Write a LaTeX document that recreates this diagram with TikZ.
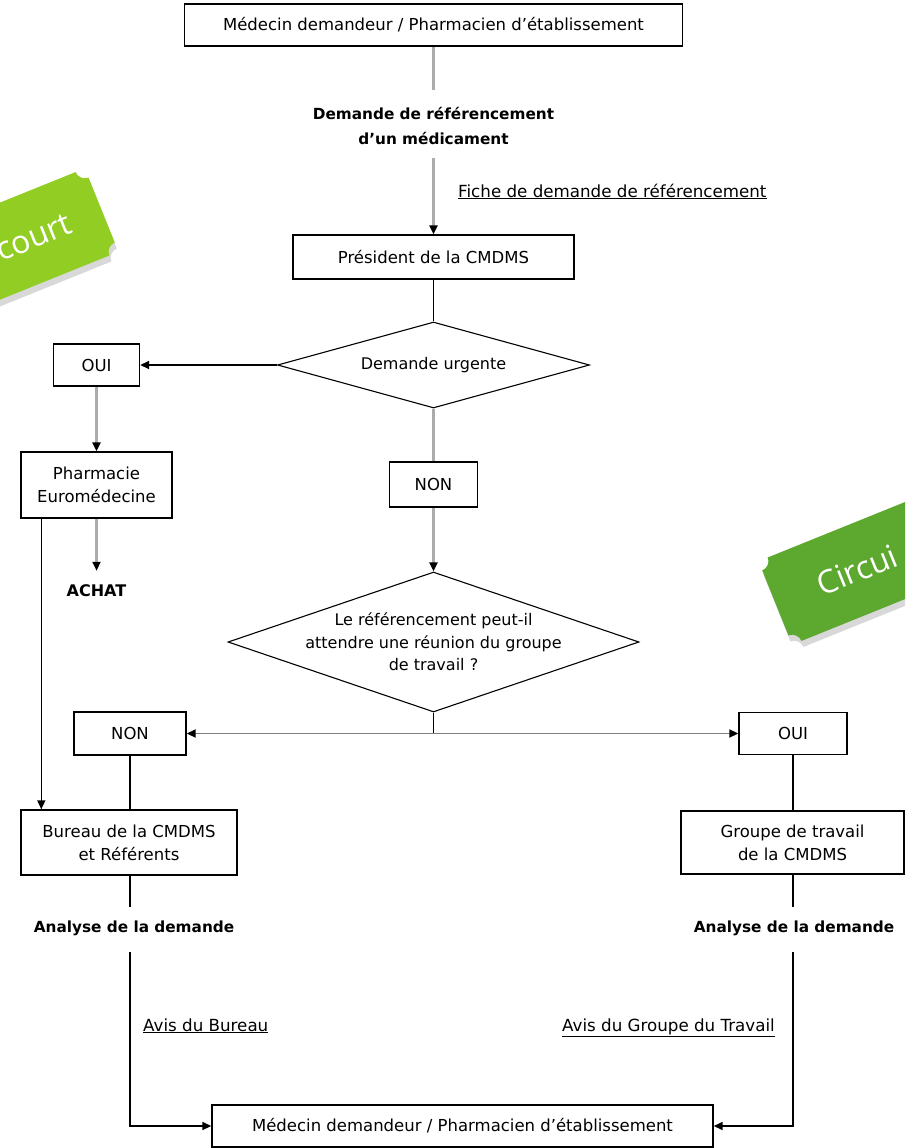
\documentclass[tikz,border=0pt]{standalone}
\usepackage{fontspec}
\setmainfont{DejaVu Sans}
\newfontfamily\tagfont{Open Sans}
\usetikzlibrary{arrows.meta,shapes.geometric,calc,shadows}
\definecolor{tagL}{HTML}{92CD24}
\definecolor{tagR}{HTML}{5DA82E}
\definecolor{gline}{HTML}{ABABAB}
\begin{document}
\begin{tikzpicture}[x=1pt,y=-1pt,
  box/.style={draw=black,line width=1.4pt,fill=white,inner sep=0pt,align=center,font=\fontsize{16.5}{23}\selectfont},
  dia/.style={draw=black,line width=1.1pt,shape=diamond,inner sep=0pt},
  dtext/.style={align=center,inner sep=0pt,font=\fontsize{16}{22.5}\selectfont},
  lbl/.style={align=center,inner sep=0pt,font=\fontsize{15.3}{25}\selectfont\bfseries},
  ul/.style={anchor=base west,inner sep=0pt,font=\fontsize{16.7}{20}\selectfont},
  gl/.style={draw=gline,line width=2.6pt},
  bl/.style={draw=black,line width=1.6pt},
  tip/.style={-{Triangle[color=black,length=9pt,width=8pt]}},
  tagtext/.style={text=white,inner sep=0pt,font=\tagfont\fontsize{32}{32}\selectfont}
]
\useasboundingbox (0,0) rectangle (905,1148);
\fill[white] (0,0) rectangle (905,1148);

% boxes
\node[box,minimum width=498pt,minimum height=42pt] (top) at (433.5,25) {Médecin demandeur / Pharmacien d'établissement};
\node[lbl] (req) at (433.5,126) {Demande de référencement\\d'un médicament};
\node[ul] (fiche) at (458,197) {\underline{Fiche de demande de référencement}};
\node[box,minimum width=281pt,minimum height=44pt] (pres) at (433.5,257) {Président de la CMDMS};
\node[dia,minimum width=312pt,minimum height=86pt] (d1) at (433.5,365) {};
\node[dtext] (d1t) at (d1) {Demande urgente};
\node[box,minimum width=86pt,minimum height=42pt] (oui1) at (96.5,365) {OUI};
\node[box,minimum width=151pt,minimum height=66pt] (pharm) at (96.5,485) {Pharmacie\\Euromédecine};
\node[lbl,font=\fontsize{16}{20}\selectfont\bfseries] (achat) at (96.5,591) {ACHAT};
\node[box,minimum width=88pt,minimum height=45pt] (non1) at (433.5,484.5) {NON};
\node[dia,minimum width=411pt,minimum height=140pt] (d2) at (433.5,642) {};
\node[dtext] (d2t) at (d2) {Le référencement peut-il\\attendre une réunion du groupe\\de travail ?};
\node[box,minimum width=112pt,minimum height=43pt] (non2) at (130,733.5) {NON};
\node[box,minimum width=108pt,minimum height=42pt] (oui2) at (793,733.5) {OUI};
\node[box,minimum width=216pt,minimum height=65pt] (bureau) at (129,842.5) {Bureau de la CMDMS\\et Référents};
\node[box,minimum width=223pt,minimum height=63pt] (groupe) at (792.5,842.5) {Groupe de travail\\de la CMDMS};
\node[lbl] (an1) at (134,928) {Analyse de la demande};
\node[lbl] (an2) at (794,928) {Analyse de la demande};
\node[ul] (avis1) at (143,1031) {\underline{Avis du Bureau}};
\node[ul] (avis2) at (562,1031) {\underline{Avis du Groupe du Travail}};
\node[box,minimum width=501pt,minimum height=42pt] (final) at (462.5,1126) {Médecin demandeur / Pharmacien d'établissement};

% helper coordinates
\coordinate (c1) at (433.5,90);
\coordinate (c2) at (433.5,158);
\coordinate (j) at (433.5,733.5);
\coordinate (b1) at (130,907);
\coordinate (b2) at (130,952);
\coordinate (g1) at (793,907);
\coordinate (g2) at (793,952);

% connectors
\draw[gl] (top.south -| c1) -- (c1);
\draw[gl,tip] (c2) -- (pres.north);
\draw[bl] (pres.south) -- (d1.north);
\draw[bl,tip] (d1.west) -- (oui1.east);
\draw[gl,tip] (oui1.south) -- (pharm.north);
\draw[gl,tip] (pharm.south) -- ($(achat.north)+(0,-14)$);
\draw[bl,tip] ($(pharm.south west)+(21,0)$) -- ($(bureau.north west)+(21,0)$);
\draw[gl] (d1.south) -- (non1.north);
\draw[gl,tip] (non1.south) -- (d2.north);
\draw[bl] (d2.south) -- (j);
\draw[draw=gray,line width=1.8pt,tip] (j) -- (non2.east);
\draw[draw=gray,line width=1.8pt,tip] (j) -- (oui2.west);
\draw[bl] (non2.south) -- (bureau.north -| non2.south);
\draw[bl] (oui2.south) -- (groupe.north -| oui2.south);
\draw[bl] (bureau.south -| b1) -- (b1);
\draw[bl] (groupe.south -| g1) -- (g1);
\draw[bl,tip] (b2) |- (final.west);
\draw[bl,tip] (g2) |- (final.east);

% tags
\begin{scope}
\clip (0,0) rectangle (905,1148);
\begin{scope}[shift={(-17,258)},rotate=22]
\def\a{128}\def\b{45}\def\r{10}
\path[fill=tagL,drop shadow={opacity=0.3,shadow xshift=2pt,shadow yshift=-6pt}]
 (-\a+\r,-\b) -- (\a-\r,-\b) .. controls (\a-\r,-\b+5.5) and (\a-5.5,-\b+\r) .. (\a,-\b+\r)
 -- (\a,\b-\r) .. controls (\a-5.5,\b-\r) and (\a-\r,\b-5.5) .. (\a-\r,\b)
 -- (-\a+\r,\b) .. controls (-\a+\r,\b-5.5) and (-\a+5.5,\b-\r) .. (-\a,\b-\r)
 -- (-\a,-\b+\r) .. controls (-\a+5.5,-\b+\r) and (-\a+\r,-\b+5.5) .. cycle;
\node[tagtext,transform shape,anchor=east] (tagl) at (\a-34,0) {court};
\end{scope}
\begin{scope}[shift={(894,555)},rotate=22]
\def\a{128}\def\b{45}\def\r{10}
\path[fill=tagR,drop shadow={opacity=0.3,shadow xshift=2pt,shadow yshift=-6pt}]
 (-\a+\r,-\b) -- (\a-\r,-\b) .. controls (\a-\r,-\b+5.5) and (\a-5.5,-\b+\r) .. (\a,-\b+\r)
 -- (\a,\b-\r) .. controls (\a-5.5,\b-\r) and (\a-\r,\b-5.5) .. (\a-\r,\b)
 -- (-\a+\r,\b) .. controls (-\a+\r,\b-5.5) and (-\a+5.5,\b-\r) .. (-\a,\b-\r)
 -- (-\a,-\b+\r) .. controls (-\a+5.5,-\b+\r) and (-\a+\r,-\b+5.5) .. cycle;
\node[tagtext,transform shape,anchor=west] (tagr) at (-\a+46,0) {Circui};
\end{scope}
\end{scope}
\end{tikzpicture}
\end{document}
